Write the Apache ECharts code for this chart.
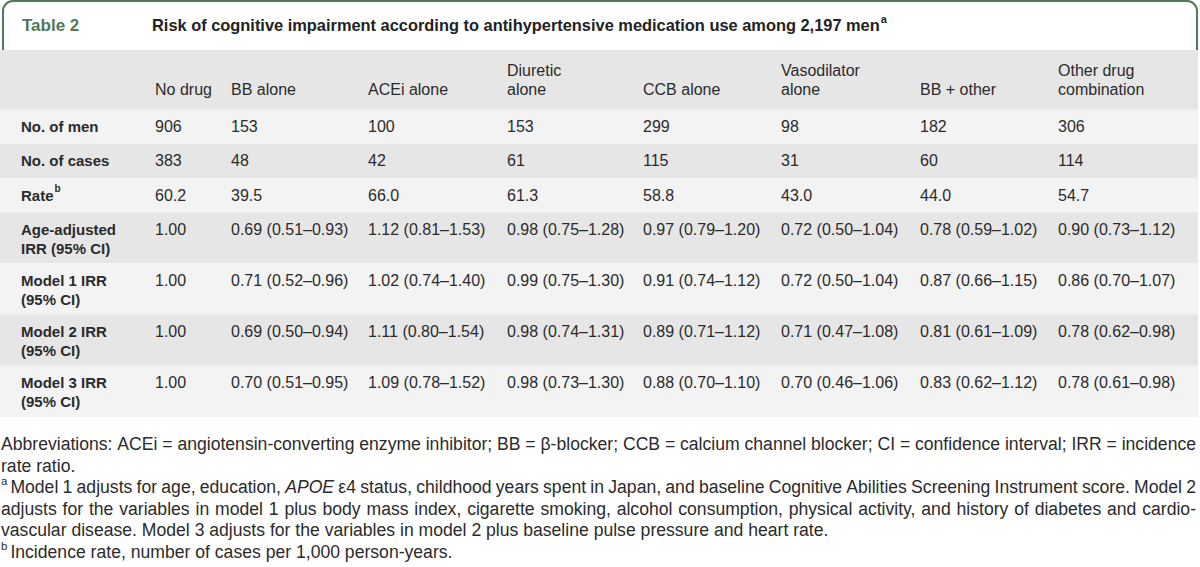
<!DOCTYPE html>
<html>
<head>
<meta charset="utf-8">
<script src="https://cdn.jsdelivr.net/npm/echarts@6/dist/echarts.min.js"></script>
<style>
html,body{margin:0;padding:0;background:#fff;}
#c{width:1200px;height:567px;}
</style>
</head>
<body>
<div id="c"></div>
<script>
// ---------------- DATA ----------------
const tableNumber = 'Table 2';
const tableTitle = 'Risk of cognitive impairment according to antihypertensive medication use among 2,197 men';
const titleNote = 'a';

const columns = ['No drug', 'BB alone', 'ACEi alone', 'Diuretic\nalone', 'CCB alone', 'Vasodilator\nalone', 'BB + other', 'Other drug\ncombination'];
const rowLabels = ['No. of men', 'No. of cases', 'Rate', 'Age-adjusted\nIRR (95% CI)', 'Model 1 IRR\n(95% CI)', 'Model 2 IRR\n(95% CI)', 'Model 3 IRR\n(95% CI)'];
const rowNotes = ['', '', 'b', '', '', '', ''];

const noOfMen = [906, 153, 100, 153, 299, 98, 182, 306];
const noOfCases = [383, 48, 42, 61, 115, 31, 60, 114];
const rate = [60.2, 39.5, 66.0, 61.3, 58.8, 43.0, 44.0, 54.7];

const ageIRR = [1.00, 0.69, 1.12, 0.98, 0.97, 0.72, 0.78, 0.90];
const ageLo  = [null, 0.51, 0.81, 0.75, 0.79, 0.50, 0.59, 0.73];
const ageHi  = [null, 0.93, 1.53, 1.28, 1.20, 1.04, 1.02, 1.12];

const m1IRR = [1.00, 0.71, 1.02, 0.99, 0.91, 0.72, 0.87, 0.86];
const m1Lo  = [null, 0.52, 0.74, 0.75, 0.74, 0.50, 0.66, 0.70];
const m1Hi  = [null, 0.96, 1.40, 1.30, 1.12, 1.04, 1.15, 1.07];

const m2IRR = [1.00, 0.69, 1.11, 0.98, 0.89, 0.71, 0.81, 0.78];
const m2Lo  = [null, 0.50, 0.80, 0.74, 0.71, 0.47, 0.61, 0.62];
const m2Hi  = [null, 0.94, 1.54, 1.31, 1.12, 1.08, 1.09, 0.98];

const m3IRR = [1.00, 0.70, 1.09, 0.98, 0.88, 0.70, 0.83, 0.78];
const m3Lo  = [null, 0.51, 0.78, 0.73, 0.70, 0.46, 0.62, 0.61];
const m3Hi  = [null, 0.95, 1.52, 1.30, 1.10, 1.06, 1.12, 0.98];

const footnotes = [
  'Abbreviations: ACEi = angiotensin-converting enzyme inhibitor; BB = \u03b2-blocker; CCB = calcium channel blocker; CI = confidence interval; IRR = incidence',
  'rate ratio.',
  '^a Model 1 adjusts for age, education, *APOE* \u03b54 status, childhood years spent in Japan, and baseline Cognitive Abilities Screening Instrument score. Model 2',
  'adjusts for the variables in model 1 plus body mass index, cigarette smoking, alcohol consumption, physical activity, and history of diabetes and cardio-',
  'vascular disease. Model 3 adjusts for the variables in model 2 plus baseline pulse pressure and heart rate.',
  '^b Incidence rate, number of cases per 1,000 person-years.'
];
const footnoteJustified = [true, false, true, true, false, false];

// ---------------- LAYOUT / STYLE ----------------
const FAMILY = '"Liberation Sans", Arial, Helvetica, sans-serif';
const GREEN = '#4d7a58';
const TEXT = '#2b2b2b';
const HEAD_BG = '#e6e6e6', LIGHT_BG = '#f3f3f3', GRAY_BG = '#e6e6e6';
const colLeft = [21, 155, 231, 368, 507, 643, 781, 920, 1058];
const TABLE_RIGHT = 1198;
const HEADER_UNITS = 1.75;

const fmt2 = v => v.toFixed(2);
const irr = (p, lo, hi) => p.map((v, i) => lo[i] == null ? fmt2(v) : `${fmt2(v)} (${fmt2(lo[i])}\u2013${fmt2(hi[i])})`);
const rowValues = [
  noOfMen.map(String),
  noOfCases.map(String),
  rate.map(v => v.toFixed(1)),
  irr(ageIRR, ageLo, ageHi),
  irr(m1IRR, m1Lo, m1Hi),
  irr(m2IRR, m2Lo, m2Hi),
  irr(m3IRR, m3Lo, m3Hi)
];

// row extents in "row units" derived from number of label lines
const rowStart = [0], rowEnd = [HEADER_UNITS];
let acc = HEADER_UNITS;
rowLabels.forEach(l => { rowStart.push(acc); acc += l.includes('\n') ? 1.5 : 1; rowEnd.push(acc); });
const totalUnits = acc;

// measurement helper
const mctx = document.createElement('canvas').getContext('2d');
function measure(t, size, weight, style) {
  mctx.font = `${style || 'normal'} ${weight || 'normal'} ${size}px "Liberation Sans"`;
  return mctx.measureText(t).width;
}

// cells
const cells = [];
columns.forEach((c, ci) => cells.push({ value: [ci + 1, 0], text: c, head: true }));
rowLabels.forEach((l, ri) => {
  cells.push({ value: [0, ri + 1], text: l, label: true, note: rowNotes[ri] });
  rowValues[ri].forEach((v, ci) => cells.push({ value: [ci + 1, ri + 1], text: v }));
});

const bands = rowStart.map((s, i) => ({ value: [s, rowEnd[i], i] }));

// ---------------- FOOTNOTES (graphic text) ----------------
const FN_SIZE = 17.6, FN_SUP = 11.5, FN_Y0 = 444, FN_STEP = 21.5, FN_LEFT = 1, FN_RIGHT = 1196;
const TITLE_SIZE = 16.4;
const graphics = [];
// title box
graphics.push({ type: 'rect', z: -10, shape: { x: 3, y: 1, width: 1194, height: 70, r: [10, 10, 0, 0] },
  style: { fill: '#fff', stroke: GREEN, lineWidth: 2 } });
graphics.push({ type: 'text', x: 22, y: 25, style: { text: tableNumber, fontSize: 17, fontWeight: 'bold', fontFamily: FAMILY, fill: GREEN, verticalAlign: 'middle' } });
const titleW = measure(tableTitle, TITLE_SIZE, 'bold');
graphics.push({ type: 'text', x: 152, y: 25, style: { text: tableTitle, fontSize: TITLE_SIZE, fontWeight: 'bold', fontFamily: FAMILY, fill: '#222', verticalAlign: 'middle' } });
graphics.push({ type: 'text', x: 152 + titleW + 1, y: 19, style: { text: titleNote, fontSize: 11, fontWeight: 'bold', fontFamily: FAMILY, fill: '#222', verticalAlign: 'middle' } });

function parseWord(w) {
  if (w.startsWith('^')) return [{ t: w.slice(1), sup: true }];
  if (w.startsWith('*') && w.endsWith('*')) return [{ t: w.slice(1, -1), it: true }];
  return [{ t: w }];
}
footnotes.forEach((line, li) => {
  const raw = line.split(' ');
  const words = [];
  for (let i = 0; i < raw.length; i++) {
    if (raw[i].startsWith('^')) { words.push(parseWord(raw[i]).concat(parseWord(raw[i + 1]))); i++; }
    else words.push(parseWord(raw[i]));
  }
  const pw = p => p.sup ? measure(p.t, FN_SUP) + 3 : measure(p.t, FN_SIZE, 'normal', p.it ? 'italic' : 'normal');
  const widths = words.map(ps => ps.reduce((s, p) => s + pw(p), 0));
  const total = widths.reduce((a, b) => a + b, 0);
  const space = measure(' ', FN_SIZE);
  let gap = footnoteJustified[li] ? (FN_RIGHT - FN_LEFT - total) / (words.length - 1) : space;
  let scale = 1;
  if (gap < space * 0.6) { gap = space * 0.6; }
  let x = FN_LEFT;
  const y = FN_Y0 + li * FN_STEP;
  words.forEach((ps, wi) => {
    let px = x;
    ps.forEach(p => {
      if (p.sup) {
        graphics.push({ type: 'text', x: px, y: y - 6, style: { text: p.t, fontSize: FN_SUP, fontFamily: FAMILY, fill: TEXT, verticalAlign: 'middle' } });
      } else {
        graphics.push({ type: 'text', x: px, y: y, style: { text: p.t, fontSize: FN_SIZE, fontStyle: p.it ? 'italic' : 'normal', fontFamily: FAMILY, fill: TEXT, verticalAlign: 'middle' } });
      }
      px += pw(p);
    });
    x += widths[wi] + gap;
  });
});

// ---------------- CHART ----------------
const chart = echarts.init(document.getElementById('c'), null, { renderer: 'svg' });
chart.setOption({
  animation: false,
  backgroundColor: '#fff',
  grid: { left: 0, top: 50, width: 1200, height: 367 },
  xAxis: { type: 'value', min: 0, max: 1200, show: false },
  yAxis: { type: 'value', min: 0, max: totalUnits, inverse: true, show: false },
  graphic: graphics,
  series: [
    {
      type: 'custom', silent: true, z: 1,
      data: bands,
      renderItem: (params, api) => {
        const p1 = api.coord([0, api.value(0)]);
        const p2 = api.coord([TABLE_RIGHT, api.value(1)]);
        const i = api.value(2);
        return { type: 'rect', shape: { x: p1[0], y: p1[1], width: p2[0] - p1[0], height: p2[1] - p1[1] },
          style: { fill: i === 0 ? HEAD_BG : (i % 2 === 1 ? LIGHT_BG : GRAY_BG) } };
      }
    },
    {
      type: 'custom', silent: true, z: 3,
      data: cells,
      renderItem: (params, api) => {
        const cell = cells[params.dataIndex];
        const c = api.value(0), r = api.value(1);
        const x = api.coord([colLeft[c], 0])[0];
        const top = api.coord([0, rowStart[r]])[1];
        const bottom = api.coord([0, rowEnd[r]])[1];
        if (cell.head) {
          return { type: 'text', style: { text: cell.text, x: x, y: bottom - 10.5, fontSize: 16, fontFamily: FAMILY, fill: TEXT, lineHeight: 19, verticalAlign: 'bottom' } };
        }
        if (cell.label) {
          const children = [{ type: 'text', style: { text: cell.text, x: x, y: top + 7.5, fontSize: 15, fontWeight: 'bold', fontFamily: FAMILY, fill: TEXT, lineHeight: 19, verticalAlign: 'top' } }];
          if (cell.note) {
            const w = measure(cell.text, 15, 'bold');
            children.push({ type: 'text', style: { text: cell.note, x: x + w + 1, y: top + 5, fontSize: 10, fontWeight: 'bold', fontFamily: FAMILY, fill: TEXT, verticalAlign: 'top' } });
          }
          return { type: 'group', children };
        }
        return { type: 'text', style: { text: cell.text, x: x, y: top + 7.5, fontSize: 16, fontFamily: FAMILY, fill: TEXT, lineHeight: 19, verticalAlign: 'top' } };
      }
    }
  ]
});
</script>
</body>
</html>
